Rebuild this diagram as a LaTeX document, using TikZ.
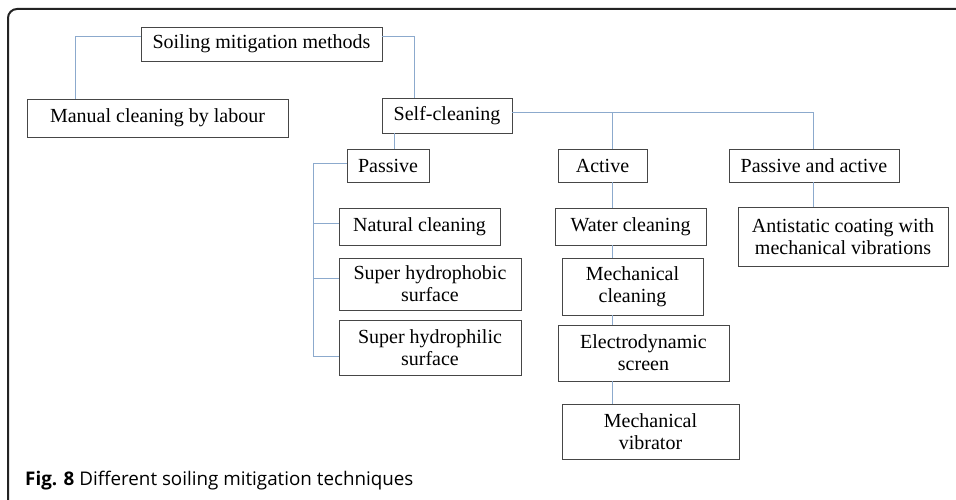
\documentclass[tikz,border=0pt]{standalone}
\usepackage{fontspec}
\setmainfont{Liberation Serif}
\newfontfamily\capfont{Open Sans}
\definecolor{linkblue}{RGB}{140,170,205}
\definecolor{boxgrey}{RGB}{70,70,70}
\definecolor{framegrey}{RGB}{35,35,35}
\tikzset{
  mbox/.style={draw=boxgrey, line width=0.9pt, inner sep=0pt, align=center,
    font=\fontsize{20pt}{22pt}\selectfont},
  link/.style={draw=linkblue, line width=1pt},
}
\begin{document}
\begin{tikzpicture}[x=1pt,y=-1pt]
\useasboundingbox (0,0) rectangle (956,500);
% frame
\draw[framegrey, line width=2pt, rounded corners=9pt] (8,502) -- (8,9) -- (958,9);
% nodes
\node[mbox, minimum width=241pt, minimum height=34pt] (top) at (261.5,44) {Soiling mitigation methods};
\node[mbox, minimum width=261pt, minimum height=38pt] (manual) at (157.5,118) {Manual cleaning by labour};
\node[mbox, minimum width=130pt, minimum height=35pt] (self) at (447,115.5) {Self-cleaning};
\node[mbox, minimum width=82pt, minimum height=33pt] (passive) at (388,165.5) {Passive};
\node[mbox, minimum width=89pt, minimum height=33pt] (active) at (602.5,165.5) {Active};
\node[mbox, minimum width=170pt, minimum height=33pt] (pa) at (814,165.5) {Passive and active};
\node[mbox, minimum width=161pt, minimum height=37pt] (natural) at (419.5,226.5) {Natural cleaning};
\node[mbox, minimum width=182pt, minimum height=52pt] (phobic) at (430,284) {Super hydrophobic\\surface};
\node[mbox, minimum width=182pt, minimum height=55pt] (philic) at (430,347.5) {Super hydrophilic\\surface};
\node[mbox, minimum width=151pt, minimum height=37pt] (water) at (630.5,226.5) {Water cleaning};
\node[mbox, minimum width=141pt, minimum height=57pt] (mechc) at (632.5,286.5) {Mechanical\\cleaning};
\node[mbox, minimum width=171pt, minimum height=56pt] (electro) at (643.5,353) {Electrodynamic\\screen};
\node[mbox, minimum width=177pt, minimum height=55pt] (vib) at (650.5,431.5) {Mechanical\\vibrator};
\node[mbox, minimum width=210pt, minimum height=59pt] (anti) at (843,236.5) {Antistatic coating with\\mechanical vibrations};
% columns and branch points
\coordinate (acol) at (612,0);
\coordinate (bus) at (512,113);
\coordinate (bnat) at (313,223);
\coordinate (bpho) at (313,278);
\coordinate (bphi) at (313,356);
% connectors
\draw[link] ([yshift=7pt]top.west) -| ([xshift=49pt]manual.north west);
\draw[link] ([yshift=7pt]top.east) -| ([xshift=33pt]self.north west);
\draw[link] ([xshift=13pt]self.south west) -- ([xshift=13pt]self.south west |- passive.north);
\draw[link] (bus) -| ([xshift=-1pt]pa.north);
\draw[link] (acol |- active.north) -- (acol |- bus);
\draw[link] ([xshift=-1pt]pa.south) -- ([xshift=-1pt]pa.south |- anti.north);
\draw[link] (acol |- active.south) -- (acol |- water.north);
\draw[link] (acol |- water.south) -- (acol |- mechc.north);
\draw[link] (acol |- mechc.south) -- (acol |- electro.north);
\draw[link] (acol |- electro.south) -- (acol |- vib.north);
\draw[link] ([yshift=1.5pt]passive.west) -| (bphi) -- (bphi -| philic.west);
\draw[link] (bnat) -- (bnat -| natural.west);
\draw[link] (bpho) -- (bpho -| phobic.west);
% caption
\node[anchor=base west, inner sep=0pt, font=\capfont\fontsize{18.8pt}{21pt}\selectfont] (cap) at (25,485) {\textbf{Fig. 8} Different soiling mitigation techniques};
\end{tikzpicture}
\end{document}
